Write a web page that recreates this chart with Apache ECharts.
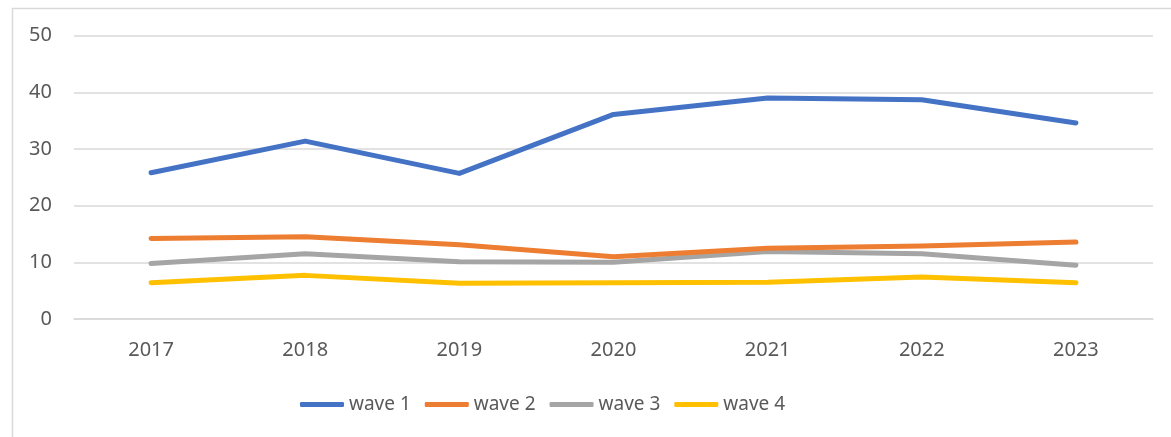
<!DOCTYPE html>
<html>
<head>
<meta charset="utf-8">
<script src="https://cdn.jsdelivr.net/npm/echarts@6/dist/echarts.min.js"></script>
<style>
html,body{margin:0;padding:0;background:#fff;}
#chart{width:1171px;height:437px;}
</style>
</head>
<body>
<div id="chart"></div>
<script>
const categories = ['2017','2018','2019','2020','2021','2022','2023'];
const wave1 = [25.8, 31.4, 25.7, 36.1, 39.0, 38.7, 34.6];
const wave2 = [14.2, 14.5, 13.1, 11.0, 12.5, 12.9, 13.6];
const wave3 = [9.8, 11.5, 10.1, 10.0, 11.9, 11.5, 9.5];
const wave4 = [6.4, 7.7, 6.3, 6.4, 6.5, 7.4, 6.4];
const seriesNames = ['wave 1','wave 2','wave 3','wave 4'];
const colors = ['#4472C4','#ED7D31','#A5A5A5','#FFC000'];

const chart = echarts.init(document.getElementById('chart'), null, {renderer:'canvas'});
const font = '"Noto Sans", sans-serif';
const data = [wave1, wave2, wave3, wave4];
chart.setOption({
  animation: false,
  color: colors,
  graphic: [{
    type: 'rect', left: 10, top: 6, z: -1,
    shape: {width: 1200, height: 500},
    style: {fill: 'none', stroke: '#d9d9d9', lineWidth: 1.5}
  }],
  grid: {left: 74, right: 18, top: 35.7, bottom: 118, containLabel: false},
  legend: {
    data: seriesNames,
    bottom: 18,
    left: 295,
    itemWidth: 44, itemHeight: 5, itemGap: 14,
    icon: 'roundRect',
    textStyle: {color: '#595959', fontSize: 19, fontFamily: font}
  },
  xAxis: {
    type: 'category',
    data: categories,
    boundaryGap: true,
    axisLine: {show: true, lineStyle: {color: '#d9d9d9', width: 1.5}},
    axisTick: {show: false},
    axisLabel: {color: '#595959', fontSize: 20, fontFamily: font, margin: 21}
  },
  yAxis: {
    type: 'value', min: 0, max: 50, interval: 10,
    axisLine: {show: false}, axisTick: {show: false},
    splitLine: {lineStyle: {color: '#d9d9d9', width: 1.5}},
    axisLabel: {color: '#595959', fontSize: 20, fontFamily: font, margin: 22}
  },
  series: seriesNames.map((n, i) => ({
    name: n, type: 'line', data: data[i],
    showSymbol: false, symbol: 'none',
    lineStyle: {width: 5, cap: 'round', join: 'round', color: colors[i]},
    itemStyle: {color: colors[i]},
    z: 10 - i
  }))
});
</script>
</body>
</html>
